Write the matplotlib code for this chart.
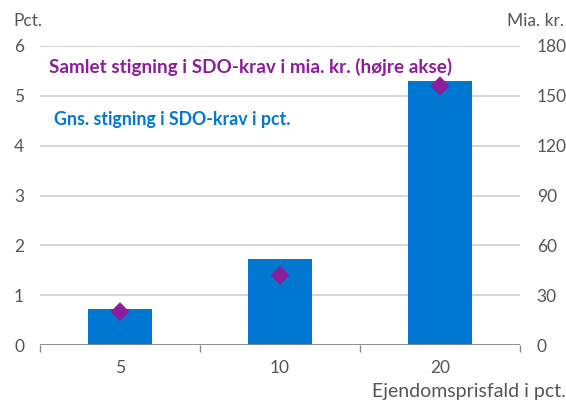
import matplotlib
matplotlib.use("Agg")
import matplotlib.pyplot as plt
import numpy as np

plt.rcParams['font.family'] = ['Lato', 'DejaVu Sans']

categories = ["5", "10", "20"]
pct_values = [0.72, 1.73, 5.29]
bn_values = [20, 42, 156]
left_ticks = [0, 1, 2, 3, 4, 5, 6]
right_ticks = [0, 30, 60, 90, 120, 150, 180]

blue = "#0078D2"
purple = "#8C1E9C"
grey = "#555555"

W, H = 566, 400
fig = plt.figure(figsize=(W/100, H/100), dpi=100)
ax = fig.add_axes([40/W, 1-345/H, 480/W, 299/H])
ax2 = ax.twinx()

x = np.arange(len(categories))
ax.bar(x, pct_values, width=0.4, color=blue, zorder=3)
ax2.scatter(x, bn_values, marker="D", s=95, color=purple, zorder=4, edgecolors="none")

ax.set_xlim(-0.5, 2.5)
ax.set_ylim(0, 6)
ax2.set_ylim(0, 180)
ax.set_yticks(left_ticks)
ax2.set_yticks(right_ticks)
ax.set_xticks(x)
ax.set_xticklabels(categories)
ax.grid(axis="y", color="#D0D0D0", linewidth=1.2, zorder=0)
ax.set_axisbelow(True)

for a in (ax, ax2):
    for s in ["top", "left", "right", "bottom"]:
        a.spines[s].set_visible(False)
ax.axhline(0, color="#888888", linewidth=1.3, zorder=5)
# category boundary ticks
ax.set_xticks([-0.5, 0.5, 1.5, 2.5], minor=True)
ax.tick_params(axis="x", which="minor", length=5, color="#888888", width=1)
ax.tick_params(axis="x", which="major", length=0, pad=11, labelsize=12.5, labelcolor=grey)
ax.tick_params(axis="y", length=0, pad=11.5, labelsize=12.5, labelcolor=grey)
ax2.tick_params(axis="y", length=0, pad=12, labelsize=12.5, labelcolor=grey)

fig.text(13/W, 1-21/H, "Pct.", fontsize=12.5, color=grey, ha="left", va="center")
fig.text(564/W, 1-21/H, "Mia. kr.", fontsize=12.5, color=grey, ha="right", va="center")
fig.text(566/W, 1-392/H, "Ejendomsprisfald i pct.", fontsize=14, color=grey, ha="right", va="center")

fig.text(49/W, 1-67/H, "Samlet stigning i SDO-krav i mia. kr. (højre akse)",
         fontsize=13.6, fontweight="bold", color=purple, ha="left", va="center")
fig.text(54/W, 1-120/H, "Gns. stigning i SDO-krav i pct.",
         fontsize=12.8, fontweight="bold", color=blue, ha="left", va="center")

fig.savefig("out.png", dpi=100)
